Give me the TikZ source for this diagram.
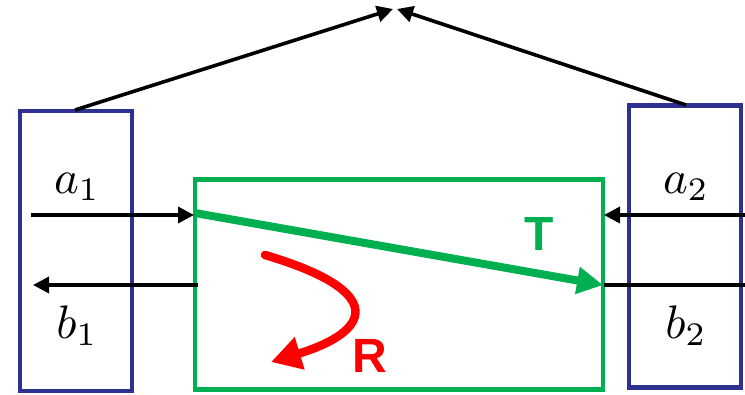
\documentclass[tikz,border=0pt]{standalone}
\usepackage{fontspec}
\newfontfamily\labfont{Liberation Sans}
\usetikzlibrary{arrows.meta}
\definecolor{portblue}{RGB}{46,49,146}
\definecolor{dutgreen}{RGB}{0,176,80}
\definecolor{refred}{RGB}{255,0,0}
\begin{document}
\begin{tikzpicture}[x=1pt,y=-1pt,
  portbox/.style={draw=portblue,line width=4.5pt,minimum width=112pt,inner sep=0pt},
  dutbox/.style={draw=dutgreen,line width=4.5pt,minimum width=408pt,minimum height=210pt,inner sep=0pt},
  wave/.style={line width=3.6pt,-{Triangle[length=16pt,width=16pt]}},
  plain/.style={line width=3.6pt},
  maths/.style={scale=4.7,inner sep=0pt},
  big/.style={font=\labfont\bfseries\fontsize{48}{52}\selectfont,inner sep=0pt}]
\useasboundingbox (0,0) rectangle (745,394);
% boxes
\node[portbox,minimum height=280pt] (p1) at (76,251) {};
\node[portbox,minimum height=282pt] (p2) at (685,246.5) {};
\node[dutbox] (d) at (399,284.5) {};
% coordinates
\coordinate (a1s) at (31,215);
\coordinate (a1e) at (194,215);
\coordinate (b1s) at (198,285);
\coordinate (b1e) at (33,285);
\coordinate (a2s) at (745,215);
\coordinate (a2e) at (604,215);
\coordinate (b2s) at (604,285);
\coordinate (b2e) at (745,285);
\coordinate (ts) at (195,213);
\coordinate (te) at (603,285);
\coordinate (apexL) at (393,9);
\coordinate (apexR) at (397,9);
\coordinate (lt) at (75,110);
\coordinate (rt) at (686,105);
\coordinate (rs) at (265,255);
\coordinate (re) at (271,362);
% connectors
\draw[wave] (a1s) -- (a1e);
\draw[wave] (b1s) -- (b1e);
\draw[wave] (a2s) -- (a2e);
\draw[plain] (b2s) -- (b2e);
\draw[wave] (lt) -- (apexL);
\draw[wave] (rt) -- (apexR);
\draw[dutgreen,line width=8pt,-{Triangle[length=26pt,width=26pt]}] (ts) -- (te);
\draw[refred,line width=8.5pt,line cap=round,-{Triangle[length=30pt,width=32pt]}] (rs) .. controls (390,292) and (370,332) .. (re);
% labels
\node[maths] (la1) at (77,187) {$a_1$};
\node[maths] (lb1) at (77,326) {$b_1$};
\node[maths] (la2) at (686,187) {$a_2$};
\node[maths] (lb2) at (686,326) {$b_2$};
\node[big,text=dutgreen] (lT) at (539,234) {T};
\node[big,text=refred] (lR) at (370,356) {R};
\end{tikzpicture}
\end{document}
